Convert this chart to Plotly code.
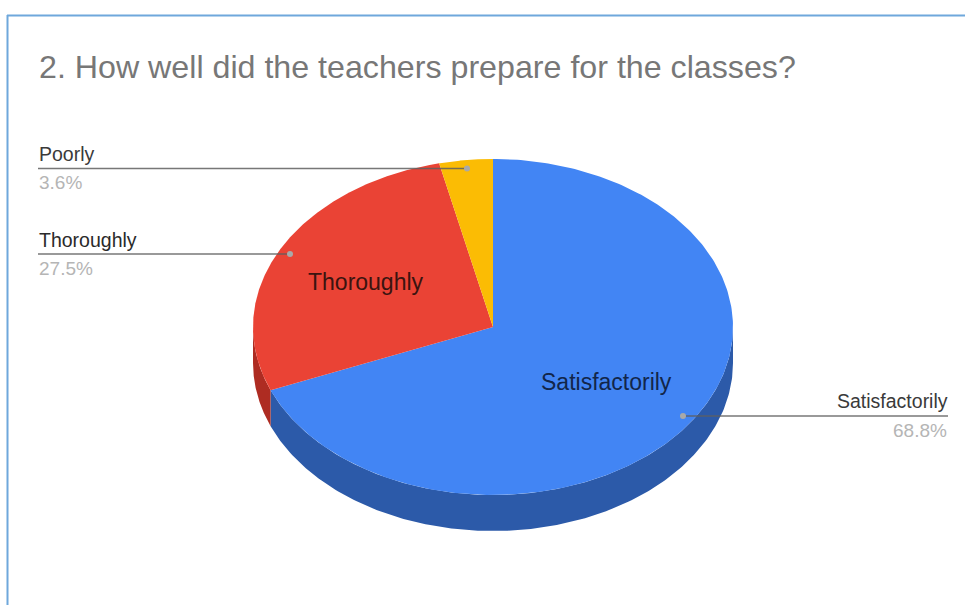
import numpy as np
import plotly.graph_objects as go

categories = ["Satisfactorily", "Thoroughly", "Poorly"]
values = [68.8, 27.5, 3.6]
percent_labels = ["68.8%", "27.5%", "3.6%"]
title_text = "2. How well did the teachers prepare for the classes?"

top_colors = ["#4285F4", "#EA4335", "#FBBC04"]
side_colors = ["#2C5AA9", "#AE2C22", "#BB8C03"]

W, H = 965, 605
CX, CY, RX, RY, DEPTH = 493, 327, 240, 168, 36


def pt(angle, dy=0.0):
    return CX + RX * np.sin(angle), CY - RY * np.cos(angle) + dy


fractions = np.array(values) / sum(values)
edges = np.concatenate([[0], np.cumsum(fractions)]) * 2 * np.pi

fig = go.Figure()

# Side walls (visible front half only)
for i, name in enumerate(categories):
    a0, a1 = max(edges[i], np.pi / 2), min(edges[i + 1], 3 * np.pi / 2)
    if a1 <= a0:
        continue
    t = np.linspace(a0, a1, 200)
    xt, yt = pt(t)
    xb, yb = pt(t[::-1], DEPTH)
    fig.add_trace(go.Scatter(x=np.concatenate([xt, xb]), y=np.concatenate([yt, yb]),
                             fill="toself", fillcolor=side_colors[i], mode="lines",
                             line=dict(width=0), hoverinfo="skip", showlegend=False))

# Top faces
for i, name in enumerate(categories):
    t = np.linspace(edges[i], edges[i + 1], 300)
    xt, yt = pt(t)
    fig.add_trace(go.Scatter(x=np.concatenate([[CX], xt, [CX]]), y=np.concatenate([[CY], yt, [CY]]),
                             fill="toself", fillcolor=top_colors[i], mode="lines",
                             line=dict(width=0), name=name, showlegend=False,
                             text=f"{name}: {percent_labels[i]}", hoverinfo="text"))

# Leader lines: (name index, y, x start, x dot)
leaders = [(0, 416, 948, 683), (1, 254, 38, 290), (2, 168.5, 38, 467)]
for i, y, x0, x1 in leaders:
    fig.add_trace(go.Scatter(x=[x0, x1], y=[y, y], mode="lines",
                             line=dict(color="rgba(95,95,95,0.85)", width=1.3),
                             hoverinfo="skip", showlegend=False))
    fig.add_trace(go.Scatter(x=[x1], y=[y], mode="markers",
                             marker=dict(color="#A9A9A9", size=6),
                             hoverinfo="skip", showlegend=False))

FONT = "Liberation Sans, Arial, sans-serif"


def note(x, y, text, size, color, anchor="left"):
    fig.add_annotation(x=x, y=y, text=text, showarrow=False, xanchor=anchor, yanchor="middle",
                       xshift=0, font=dict(family=FONT, size=size, color=color))


note(37, 67, title_text, 32.2, "#777777")
note(37, 154, categories[2], 19.5, "#3A3A3A")
note(37, 182, percent_labels[2], 19, "#B5B5B5")
note(37, 240, categories[1], 19.5, "#2A2A2A")
note(37, 268, percent_labels[1], 19, "#B5B5B5")
note(950, 401, categories[0], 19.5, "#3A3A3A", "right")
note(949, 430, percent_labels[0], 19, "#B5B5B5", "right")
note(366, 282, categories[1], 23, "#3A1410", "center")
note(606, 382, categories[0], 23, "#12264A", "center")

fig.update_layout(
    width=W, height=H, autosize=False,
    margin=dict(l=0, r=0, t=0, b=0, pad=0),
    paper_bgcolor="white", plot_bgcolor="white",
    xaxis=dict(range=[0, W], visible=False, fixedrange=True),
    yaxis=dict(range=[H, 0], visible=False, fixedrange=True),
    shapes=[
        dict(type="line", x0=7, x1=W, y0=15.5, y1=15.5, line=dict(color="#6FA8DC", width=2)),
        dict(type="line", x0=7.5, x1=7.5, y0=15, y1=H, line=dict(color="#6FA8DC", width=2)),
    ],
)

fig.write_html("out.html", config={"displayModeBar": False},
               post_script="document.body.style.margin='0';document.documentElement.style.overflow='hidden';")
